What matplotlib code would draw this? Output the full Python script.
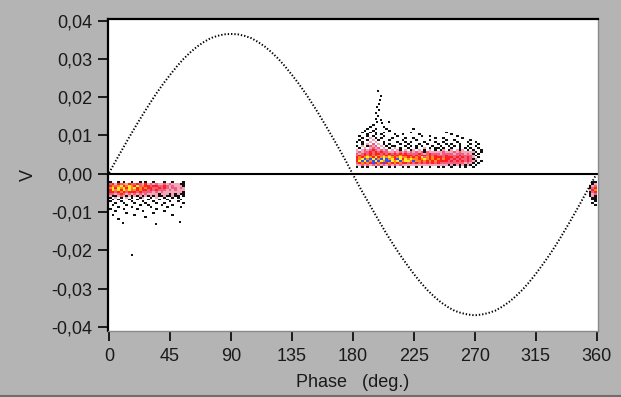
import numpy as np
import matplotlib
matplotlib.use('Agg')
from matplotlib import pyplot as plt
from matplotlib.colors import ListedColormap, BoundaryNorm
from matplotlib.lines import Line2D
from matplotlib.ticker import FuncFormatter

plt.rcParams['font.family'] = ['Liberation Sans', 'DejaVu Sans']

sine_phase = np.arange(0, 361, 5)
sine_v = [0.0002, 0.0034, 0.0065, 0.0096, 0.0126, 0.0155, 0.0183, 0.0210, 0.0235,
          0.0258, 0.0280, 0.0300, 0.0317, 0.0332, 0.0344, 0.0354, 0.0360, 0.0364,
          0.0365, 0.0364, 0.0360, 0.0354, 0.0344, 0.0332, 0.0317, 0.0300, 0.0280,
          0.0258, 0.0235, 0.0210, 0.0183, 0.0155, 0.0125, 0.0095, 0.0064, 0.0032,
          -0.0002, -0.0035, -0.0066, -0.0097, -0.0128, -0.0158, -0.0186, -0.0213,
          -0.0238, -0.0262, -0.0284, -0.0304, -0.0321, -0.0336, -0.0348, -0.0358,
          -0.0364, -0.0368, -0.0370, -0.0368, -0.0364, -0.0358, -0.0348, -0.0336,
          -0.0321, -0.0304, -0.0284, -0.0262, -0.0238, -0.0213, -0.0186, -0.0157,
          -0.0127, -0.0096, -0.0064, -0.0032, 0.0000]

# density grids: one digit per 2 deg x 0.0005 V cell, 0 = empty, top row first
cell_phase = 2.0
cell_v = 0.0005

grid1_phase0, grid1_vtop = 0, -0.0020
grid1_rows = [
    "10010100100101001000100100010",
    "34243524334324232322323222110",
    "45356456546354434433432322210",
    "56465646564545443343432332320",
    "46564656354544343433323232220",
    "44345434443433332323222222210",
    "33234323232323222212221212110",
    "21123212121212121211211211010",
    "10201020100120010200100101000",
    "01010001001000100010010000100",
    "10001000100010001000001001000",
    "00100100010001000100100000010",
    "01000010000100100001000100000",
    "00010000100000010000010000100",
    "10000100001000000100000000000",
    "00100000000010000000100000000",
    "00000010000000001000000000000",
    "01000000010000000000000100000",
    "00000000000001000000000000000",
    "00010000000000000000000000000",
]

grid2_phase0, grid2_vtop = 182, 0.0130
grid2_rows = [
    "00000010000000000000000000000000000000000000000",
    "00000100001000000000000000000000000000000000000",
    "00001001000100000000010000000000000000000000000",
    "00010010000010000000000000000000000000000000000",
    "00100101001000000000100000000000010000000000000",
    "00001001010000100100000100000000000100000000000",
    "01001010001000010000000010010000000001000000000",
    "00100201010001000010010000000100100000010000000",
    "01001020100010000100001000010000010010000010000",
    "10100202001000010010100001000100100001000100100",
    "00102030201010001001000100100010010100100010010",
    "10201323020101100010101010001001001010100100100",
    "01020232302010201001001002010110100100101010010",
    "20232343232302021020120201020101201202120101001",
    "23233434343322323232323231322222322232322222101",
    "32343434434343434343333432343332333323332321010",
    "34345454535454345444434344343433343333433332100",
    "45456546456565456554545463545444344434343432010",
    "45675767576756476465655456545454544343433431200",
    "46767576765776567566575545454544443434343432101",
    "34545474547454545443434343434343333333332321010",
    "22323232323232323222222222222222221212121210100",
    "10101001010010100101001010010010100100101001000",
]

grid3_phase0, grid3_vtop = 354, -0.0020
grid3_rows = [
    "011", "012", "123", "134", "245", "134", "123",
    "121", "011", "011", "001", "010", "001",
]

# isolated black points outside the grids
stray_phase = [198.6, 200.6, 200.2, 199.0, 197.8, 199.6, 197.2, 198.8, 196.8,
               200.4, 198.0, 201.2, 206.5, 16.6, 10.0, 35.0, 52.0]
stray_v = [0.0217, 0.0203, 0.0192, 0.0183, 0.0174, 0.0166, 0.0158, 0.0150, 0.0144,
           0.0139, 0.0135, 0.0133, 0.0135, -0.0212, -0.0128, -0.0131, -0.0127]

level_colors = ['#111111', '#f2a7b8', '#ee5e80', '#ff2020', '#ff8a1a', '#ffee22', '#2a50ff']
cmap = ListedColormap(level_colors)
norm = BoundaryNorm(np.arange(0.5, 8.5, 1), cmap.N)


def draw_grid(ax, rows, phase0, vtop):
    ncol = max(len(r) for r in rows)
    z = np.array([[int(ch) for ch in r.ljust(ncol, '0')] for r in rows], float)
    z = np.ma.masked_equal(z, 0)
    xe = phase0 + cell_phase * np.arange(ncol + 1)
    ye = vtop - cell_v * np.arange(len(rows) + 1)
    ax.pcolormesh(xe, ye, z, cmap=cmap, norm=norm, shading='flat', zorder=2)


bg = '#b4b4b4'
fig = plt.figure(figsize=(6.21, 3.97), dpi=100, facecolor=bg)
ax = fig.add_axes([0.1739, 0.1662, 0.7891, 0.7859])
ax.set_facecolor('white')

ax.axhline(0, color='black', lw=1.5, zorder=1)
ax.plot(sine_phase, sine_v, color='black', lw=1.4, linestyle=(0, (0.7, 1.0)), zorder=3)

draw_grid(ax, grid1_rows, grid1_phase0, grid1_vtop)
draw_grid(ax, grid2_rows, grid2_phase0, grid2_vtop)
draw_grid(ax, grid3_rows, grid3_phase0, grid3_vtop)
ax.scatter(stray_phase, stray_v, s=2.5, color='#111111', marker='s', lw=0, zorder=3)

ax.set_xlim(-0.8, 361)
ax.set_ylim(-0.0411, 0.0404)
ax.set_xticks(np.arange(0, 361, 45))
ax.set_yticks(np.arange(-0.04, 0.0401, 0.01))
ax.yaxis.set_major_formatter(FuncFormatter(lambda v, p: f"{v:.2f}".replace('.', ',').replace('-0,00', '0,00')))

for side in ['left', 'top']:
    ax.spines[side].set_color('black')
    ax.spines[side].set_linewidth(1.6)
for side in ['right', 'bottom']:
    ax.spines[side].set_color('#8a8a8a')
    ax.spines[side].set_linewidth(1.0)

ax.tick_params(axis='y', direction='out', length=7, width=1.2, pad=4,
               labelsize=13, labelcolor='#1a1a1a')
ax.tick_params(axis='x', direction='out', length=7, width=1.2, pad=5,
               labelsize=13, labelcolor='#1a1a1a')

ax.set_xlabel('Phase   (deg.)', fontsize=13, color='#1a1a1a', labelpad=7)
ax.set_ylabel('V', fontsize=13, color='#1a1a1a', labelpad=11)

fig.add_artist(Line2D([0, 1], [0.002, 0.002], transform=fig.transFigure,
                      color='#6e6e6e', lw=1.5))

fig.savefig('out.png', dpi=100, facecolor=bg)
